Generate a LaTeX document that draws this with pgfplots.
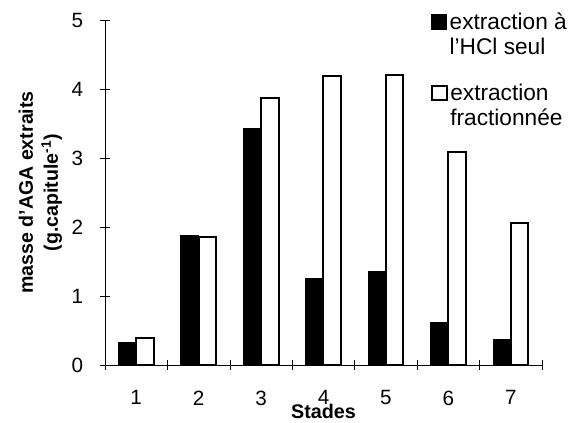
\documentclass[border=0pt]{standalone}
\usepackage{fontspec}
\setmainfont{Liberation Sans}
\usepackage{pgfplots}
\pgfplotsset{compat=1.18}
\pgfplotsset{
  common/.style={
    at={(0,0)}, anchor=south west,
    scale only axis,
    width=327.75pt, height=258.75pt,
    xmin=0.5, xmax=7.5, ymin=0, ymax=5,
    legend cell align=left,
    legend style={draw=none, fill=none, anchor=north west,
      font=\fontsize{17}{18.75}\selectfont, inner sep=0pt, outer sep=0pt,
      nodes={inner sep=0pt, outer sep=0pt}, cells={anchor=base west},
      /tikz/every odd column/.append style={column sep=2pt}},
    legend image code/.code={\draw[##1] (0pt,0pt) rectangle (11pt,11pt);},
  }
}
\begin{document}
\begin{tikzpicture}
\useasboundingbox (-78.75pt,-43.5pt) rectangle (348.75pt,273.75pt);
\begin{axis}[
  common,
  axis x line=bottom, axis y line=left,
  axis line style={-, line width=0.6pt},
  ytick={0,1,2,3,4,5},
  xtick={0.5,1.5,...,7.5}, xticklabels={},
  extra x ticks={1,2,3,4,5,6,7},
  extra x tick labels={1,2,3,4,5,6,7},
  extra x tick style={tick style={draw=none}},
  tick align=center,
  major tick length=7pt,
  tick style={black, line width=0.5pt},
  /pgf/number format/assume math mode=true,
  tick label style={font=\fontsize{15.5}{18}\selectfont, inner sep=0pt},
  xticklabel style={anchor=north, yshift=-15.5pt},
  yticklabel style={anchor=east, xshift=-12.75pt},
  xlabel={\textbf{Stades}},
  xlabel style={font=\fontsize{14.8}{17}\selectfont, inner sep=0pt, at={(axis description cs:0.5,-0.1565)}, anchor=base},
  ylabel={\textbf{masse d'AGA extraits}\\\textbf{(g.capitule\textsuperscript{-1})}},
  ylabel style={font=\fontsize{14.7}{18.75}\selectfont, align=center, at={(axis description cs:-0.148,0.5)}, anchor=center},
  legend style={at={(axis description cs:0.746,1.0203)}},
]
\addplot[ybar, bar width=0.28, bar shift=-0.14, fill=black, draw=black, line width=1pt]
  coordinates {(1,0.32) (2,1.87) (3,3.43) (4,1.25) (5,1.35) (6,0.62) (7,0.36)};
\addlegendentry{\parbox[t]{3.5cm}{extraction à\\l'HCl seul}}
\end{axis}
\begin{axis}[
  common,
  hide axis,
  legend style={at={(axis description cs:0.746,0.8145)}},
]
\addplot[ybar, bar width=0.28, bar shift=0.14, fill=white, draw=black, line width=1.5pt]
  coordinates {(1,0.39) (2,1.85) (3,3.87) (4,4.19) (5,4.21) (6,3.09) (7,2.06)};
\addlegendentry{\parbox[t]{3.5cm}{extraction\\fractionnée}}
\end{axis}
\end{tikzpicture}
\end{document}
